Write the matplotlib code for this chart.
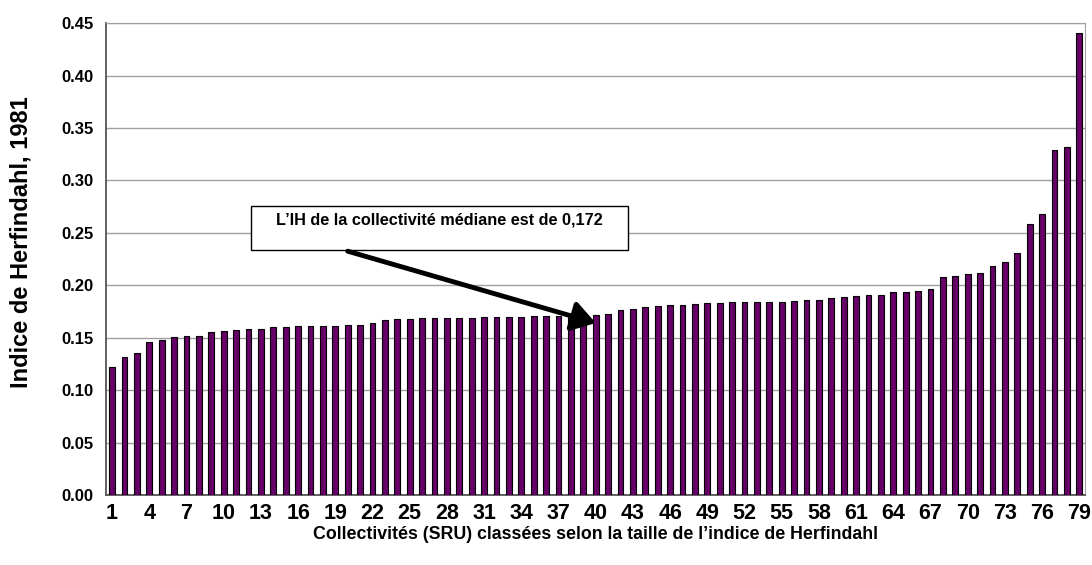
import matplotlib
matplotlib.use("Agg")
import matplotlib.pyplot as plt
from matplotlib.patches import Rectangle

# Collectivités classées 1..79
ranks = list(range(1, 80))
herfindahl = [
    0.122, 0.132, 0.135, 0.146, 0.148, 0.151, 0.152, 0.152, 0.155, 0.156,
    0.157, 0.158, 0.158, 0.160, 0.160, 0.161, 0.161, 0.161, 0.161, 0.162,
    0.162, 0.164, 0.167, 0.168, 0.168, 0.169, 0.169, 0.169, 0.169, 0.169,
    0.170, 0.170, 0.170, 0.170, 0.171, 0.171, 0.171, 0.172, 0.172, 0.172,
    0.173, 0.176, 0.177, 0.179, 0.180, 0.181, 0.181, 0.182, 0.183, 0.183,
    0.184, 0.184, 0.184, 0.184, 0.184, 0.185, 0.186, 0.186, 0.188, 0.189,
    0.190, 0.191, 0.191, 0.194, 0.194, 0.195, 0.196, 0.208, 0.209, 0.211,
    0.212, 0.218, 0.222, 0.231, 0.258, 0.268, 0.329, 0.332, 0.441,
]
xtick_labels = [str(r) for r in ranks[::3]]
yticks = [0.00, 0.05, 0.10, 0.15, 0.20, 0.25, 0.30, 0.35, 0.40, 0.45]

plt.rcParams["font.family"] = ["Liberation Sans", "DejaVu Sans"]
plt.rcParams["font.weight"] = "bold"

fig = plt.figure(figsize=(10.92, 5.65), dpi=100)
ax = fig.add_axes([0.097, 0.124, 0.897, 0.835])

ax.bar(ranks, herfindahl, width=0.47, color="#660066", edgecolor="black",
       linewidth=0.8, zorder=3)

ax.set_xlim(0.5, 79.5)
ax.set_ylim(0, 0.45)
ax.set_yticks(yticks)
ax.set_yticklabels(["%.2f" % v for v in yticks], fontsize=12, fontweight="bold")
ax.set_xticks(ranks[::3])
ax.set_xticklabels(xtick_labels, fontsize=15.5, fontweight="bold")
ax.tick_params(axis="both", length=0)
ax.tick_params(axis="y", pad=9)
ax.tick_params(axis="x", pad=6)

ax.grid(axis="y", color="#a0a0a0", linewidth=1, zorder=0)
ax.spines["left"].set_color("#555555")
ax.spines["bottom"].set_color("#555555")
ax.spines["left"].set_linewidth(1.3)
ax.spines["bottom"].set_linewidth(1.3)
ax.spines["top"].set_color("#a0a0a0")
ax.spines["right"].set_color("#a0a0a0")

ax.set_ylabel("Indice de Herfindahl, 1981", fontsize=17, fontweight="bold")
ax.yaxis.set_label_coords(-0.075, 0.536)
ax.set_xlabel("Collectivités (SRU) classées selon la taille de l\u2019indice de Herfindahl",
              fontsize=12.8, fontweight="bold", labelpad=1)

# boîte d'annotation
box = Rectangle((12.2, 0.2335), 30.4, 0.042, facecolor="white", edgecolor="black",
                linewidth=1, zorder=5)
ax.add_patch(box)
ax.text(27.4, 0.2625, "L\u2019IH de la collectivité médiane est de 0,172",
        ha="center", va="center", fontsize=11.7, fontweight="bold", zorder=6)
ax.annotate("", xy=(40, 0.164), xytext=(20, 0.2325),
            arrowprops=dict(arrowstyle="-|>,head_length=0.7,head_width=0.45",
                            color="black", lw=3.5, mutation_scale=20,
                            shrinkA=0, shrinkB=0),
            zorder=6)

fig.savefig("out.png", dpi=100)
plt.close(fig)
